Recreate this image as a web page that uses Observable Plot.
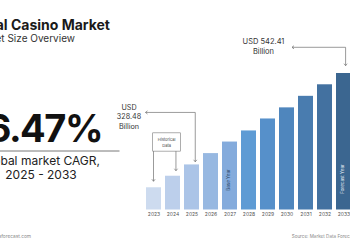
<!DOCTYPE html>
<html>
<head>
<meta charset="utf-8">
<script src="https://cdn.jsdelivr.net/npm/d3@7"></script>
<script src="https://cdn.jsdelivr.net/npm/@observablehq/plot@0.6"></script>
<style>
  body { margin: 0; background: #fff; overflow: hidden; }
  #wrap { position: relative; width: 350px; height: 250px; overflow: hidden; }
</style>
</head>
<body>
<div id="wrap"></div>
<script>
// Global casino market size, USD billion
const years = [2023, 2024, 2025, 2026, 2027, 2028, 2029, 2030, 2031, 2032, 2033];
const marketSize = [275, 302, 328.48, 355, 382, 408, 436, 462, 489, 516, 542.41];
const cagrText = "6.47%";
const cagrPeriod = "2025 - 2033";
const baseYear = 2027;
const forecastYear = 2033;
const startLabel = ["USD", "328.48", "Billion"];
const endLabel = ["USD 542.41", "Billion"];
const historicalYears = [2023, 2024];

const yFloor = 223; // value axis starts above zero
const palette = ["#cddbef", "#bccfeb", "#abc4e7", "#97b8e1", "#84abdc", "#5e9bd4",
                 "#5690ca", "#4f86bd", "#497caf", "#4371a0", "#3b6690"];

const rows = years.map((year, i) => ({year, value: marketSize[i]}));
const valueOf = yr => marketSize[years.indexOf(yr)];
const FONT = "Inter, 'Open Sans', sans-serif";

// Elbow connectors and callout labels, positioned from the plot's scales
function callouts(index, {x, y}) {
  const bw = typeof x.bandwidth === "function" ? x.bandwidth() : x.bandwidth;
  const g = d3.create("svg:g").attr("font-family", FONT);
  const lines = g.append("g").attr("fill", "none").attr("stroke", "#707070").attr("stroke-width", 0.7);
  const arrowDown = (px, py) => lines.append("path").attr("d", `M${px - 1.6},${py - 2}L${px},${py}L${px + 1.6},${py - 2}`);
  const arrowLeft = (px, py) => lines.append("path").attr("d", `M${px + 2},${py - 1.6}L${px},${py}L${px + 2},${py + 1.6}`);

  // 2025 value callout
  {
    const px = x(2025) + bw * 0.75, top = y(valueOf(2025));
    const ly = top - 52, ax = x(2023) - 0.5;
    lines.append("path").attr("d", `M${px},${top - 2.6}V${ly}H${ax}`);
    arrowDown(px, top - 2.6);
    arrowLeft(ax, ly);
    g.append("g").attr("text-anchor", "middle").attr("font-size", 7.2).attr("fill", "#333")
      .selectAll("text").data(startLabel).join("text")
      .attr("x", ax - 16.5).attr("y", (d, i) => ly - 5.3 + i * 9.7).attr("dy", "0.35em").text(d => d);
  }

  // 2033 value callout
  {
    const px = x(2033) + bw * 0.64, top = y(valueOf(2033));
    const ly = top - 25.7, ax = x(2031) - 6;
    lines.append("path").attr("d", `M${px},${top - 7.3}V${ly}H${ax}`);
    arrowDown(px, top - 7.3);
    arrowLeft(ax, ly);
    g.append("g").attr("text-anchor", "middle").attr("font-size", 7.5).attr("fill", "#333")
      .selectAll("text").data(endLabel).join("text")
      .attr("x", ax - 28.5).attr("y", (d, i) => ly - 5.6 + i * 10).attr("dy", "0.35em").text(d => d);
  }

  // Historical data box with pointers to the first two bars
  {
    const [h0, h1] = historicalYears;
    const lx = x(h0) + bw * 0.5, rx = x(h1) + bw * 0.73;
    const bottom = y(valueOf(h1)) - 24.6, top = bottom - 18.3;
    const bx0 = lx - 0.8, bx1 = rx + 4.6;
    lines.append("rect").attr("x", bx0).attr("y", top).attr("width", bx1 - bx0).attr("height", bottom - top)
      .attr("stroke", "#777").attr("stroke-width", 0.6);
    lines.append("path").attr("d", `M${lx},${bottom}V${y(valueOf(h0)) - 6}`);
    arrowDown(lx, y(valueOf(h0)) - 6);
    lines.append("path").attr("d", `M${rx},${bottom}V${y(valueOf(h1)) - 5}`);
    arrowDown(rx, y(valueOf(h1)) - 5);
    g.append("g").attr("text-anchor", "middle").attr("font-size", 4).attr("fill", "#444")
      .selectAll("text").data(["Historical", "Data"]).join("text")
      .attr("x", (bx0 + bx1) / 2).attr("y", (d, i) => top + 6.6 + i * 6).attr("dy", "0.35em").text(d => d);
  }
  return g.node();
}

// Title, headline figure and footer text
function headline() {
  const g = d3.create("svg:g").attr("font-family", FONT).attr("text-anchor", "start");
  g.append("text").attr("x", 110).attr("y", 30).attr("text-anchor", "end").attr("font-size", 14)
    .attr("font-weight", 700).attr("fill", "#1a1a1a").text("Global Casino Market");
  g.append("text").attr("x", 75).attr("y", 42).attr("text-anchor", "end").attr("font-size", 10)
    .attr("fill", "#333").text("Market Size Overview");
  g.append("text").attr("x", 102).attr("y", 141.5).attr("text-anchor", "end").attr("font-size", 38)
    .attr("font-weight", 700).attr("fill", "#111").attr("letter-spacing", -1.5).text(cagrText);
  g.append("line").attr("x1", -5).attr("x2", 119.5).attr("y1", 151).attr("y2", 151)
    .attr("stroke", "#555").attr("stroke-width", 0.8);
  g.append("text").attr("x", 100).attr("y", 164.5).attr("text-anchor", "end").attr("font-size", 12)
    .attr("fill", "#222").text("Global market CAGR,");
  g.append("text").attr("x", 41).attr("y", 179).attr("text-anchor", "middle").attr("font-size", 12)
    .attr("fill", "#222").text(cagrPeriod);
  g.append("text").attr("x", 31).attr("y", 237.5).attr("text-anchor", "end").attr("font-size", 4.8)
    .attr("fill", "#8a8a8a").text("www.marketdataforecast.com");
  g.append("text").attr("x", 291.7).attr("y", 237.5).attr("font-size", 4.6)
    .attr("fill", "#8a8a8a").text("Source: Market Data Forecast");
  return g.node();
}

const chart = Plot.plot({
  width: 350,
  height: 250,
  marginTop: 73,
  marginBottom: 40.5,
  marginLeft: 140,
  marginRight: 0,
  style: {fontFamily: FONT, overflow: "visible", background: "#fff"},
  x: {type: "band", domain: years, range: [139.8, 358.2], paddingInner: 0.2, paddingOuter: 0.2, label: null},
  y: {domain: [yFloor, d3.max(marketSize)], axis: null},
  color: {type: "ordinal", domain: years, range: palette},
  marks: [
    Plot.barY(rows, {x: "year", y1: yFloor, y2: "value", fill: "year"}),
    Plot.axisX({tickSize: 0, tickPadding: 2.5, fontSize: 5, color: "#555", label: null, tickFormat: d => `${d}`}),
    Plot.text(rows.filter(d => d.year === baseYear), {
      x: "year", text: () => "Base Year", frameAnchor: "bottom", dy: -30, rotate: -90,
      fontSize: 4.5, fill: "#2c4766"
    }),
    Plot.text(rows.filter(d => d.year === forecastYear), {
      x: "year", text: () => "Forecast Year", frameAnchor: "bottom", dy: -31, rotate: -90,
      fontSize: 4.5, fill: "#e8eef6"
    }),
    callouts,
    headline
  ]
});

document.getElementById("wrap").appendChild(chart);
</script>
</body>
</html>
